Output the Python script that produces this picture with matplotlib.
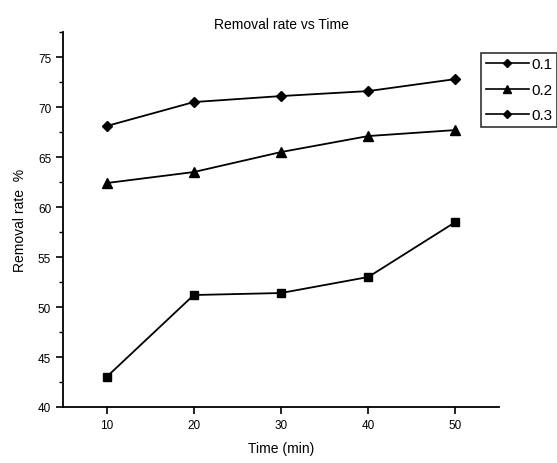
import matplotlib.pyplot as plt
from matplotlib.lines import Line2D
from matplotlib.ticker import MultipleLocator

plt.rcParams['font.family'] = ['Liberation Sans', 'DejaVu Sans']

time = [10, 20, 30, 40, 50]
rate_01 = [68.1, 70.5, 71.1, 71.6, 72.8]
rate_02 = [62.4, 63.5, 65.5, 67.1, 67.7]
rate_03 = [43.0, 51.2, 51.4, 53.0, 58.5]
labels = ['0.1', '0.2', '0.3']

fig = plt.figure(figsize=(5.57, 4.64), dpi=100)
ax = fig.add_axes([0.113, 0.1207, 0.783, 0.808])

ax.plot(time, rate_01, color='black', marker='D', markersize=5.5, lw=1.3)
ax.plot(time, rate_02, color='black', marker='^', markersize=6.5, lw=1.3)
ax.plot(time, rate_03, color='black', marker='s', markersize=5.5, lw=1.3)

ax.set_xlim(5, 55)
ax.set_ylim(40, 77.5)
ax.set_xticks([10, 20, 30, 40, 50])
ax.yaxis.set_major_locator(MultipleLocator(5))
ax.yaxis.set_minor_locator(MultipleLocator(2.5))
ax.spines['top'].set_visible(False)
ax.spines['right'].set_visible(False)
ax.spines['left'].set_linewidth(1.3)
ax.spines['bottom'].set_linewidth(1.3)
ax.tick_params(which='major', length=5, width=1.2, labelsize=8.5)
ax.tick_params(which='minor', length=3, width=1.0)

ax.set_title('Removal rate vs Time', fontsize=10, pad=3)
ax.set_xlabel('Time (min)', fontsize=10, labelpad=7)
ax.set_ylabel('Removal rate  %', fontsize=10, labelpad=8)

handles = [
    Line2D([], [], color='black', marker='D', markersize=4.5, lw=1.2),
    Line2D([], [], color='black', marker='^', markersize=5.5, lw=1.2),
    Line2D([], [], color='black', marker='D', markersize=4.5, lw=1.2),
]
leg = fig.legend(handles, labels, loc='upper left', bbox_to_anchor=(0.864, 0.884),
                 fontsize=11, frameon=True, fancybox=False, edgecolor='black',
                 handlelength=2.8, handletextpad=0.2, borderpad=0.3,
                 borderaxespad=0, labelspacing=0.75)
leg.get_frame().set_linewidth(1.2)

fig.savefig('out.png', dpi=100)
